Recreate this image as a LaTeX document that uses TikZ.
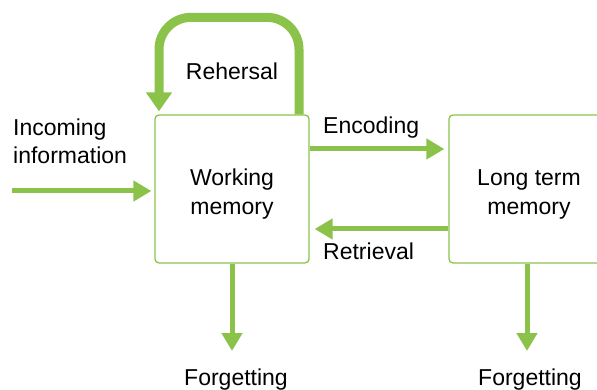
\documentclass[tikz,border=0pt]{standalone}
\usepackage{fontspec}
\setmainfont{Liberation Sans}
\usetikzlibrary{positioning}
\usetikzlibrary{arrows.meta}
\definecolor{leaf}{RGB}{139,195,74}

\begin{document}
\begin{tikzpicture}[x=1pt,y=-1pt,
    box/.style={draw=leaf,line width=1.3pt,rounded corners=4pt,minimum width=154pt,minimum height=148pt,align=center,font=\fontsize{23}{29}\selectfont},
    txt/.style={inner sep=0pt,font=\fontsize{23}{28}\selectfont},
    flow/.style={draw=leaf,line width=5pt,-{Triangle[length=18pt,width=20pt]}},
    loopback/.style={draw=leaf,line width=9pt,rounded corners=32pt,-{Triangle[length=19pt,width=25pt]}}]
    \clip (0,0) rectangle (597,390); % page size
    \node[box] (wm) at (232,189) {\rule{0pt}{27pt}Working\\memory};
    \node[box,minimum width=160pt] (ltm) at (529,189) {\rule{0pt}{27pt}Long term\\memory};
    \coordinate (in) at (12,191);
    \node[txt,anchor=north west,align=left] (inc) at (13,119) {Incoming\\information};
    \node[txt] (reh) at (232,71) {Rehersal};
    \node[txt,anchor=west] (enc) at (323,128) {Encoding};
    \node[txt,anchor=west] (ret) at (323,251) {Retrieval};
    \node[txt,anchor=north] (fw) at (236,369) {Forgetting};
    \node[txt,anchor=north] (fl) at (530,369) {Forgetting};
    % arrows between the boxes
    \draw[flow,shorten >=3pt] (in) -- (in -| wm.west);
    \draw[flow,shorten >=4pt] ([yshift=40pt]wm.east) -- ([yshift=40pt]ltm.west);
    \draw[flow,shorten >=5pt] ([yshift=-40pt]ltm.west) -- ([yshift=-40pt]wm.east);
    \draw[flow,shorten >=18pt] (wm.south) -- (wm.south |- fw.north);
    \draw[flow,shorten >=18pt] ([xshift=-2pt]ltm.south) -- ([xshift=-2pt]ltm.south |- fl.north);
    \draw[loopback] ([xshift=67pt]wm.north) |- ([xshift=-73pt,yshift=97pt]wm.north) -- ([xshift=-73pt,yshift=3pt]wm.north);
\end{tikzpicture}
\end{document}
